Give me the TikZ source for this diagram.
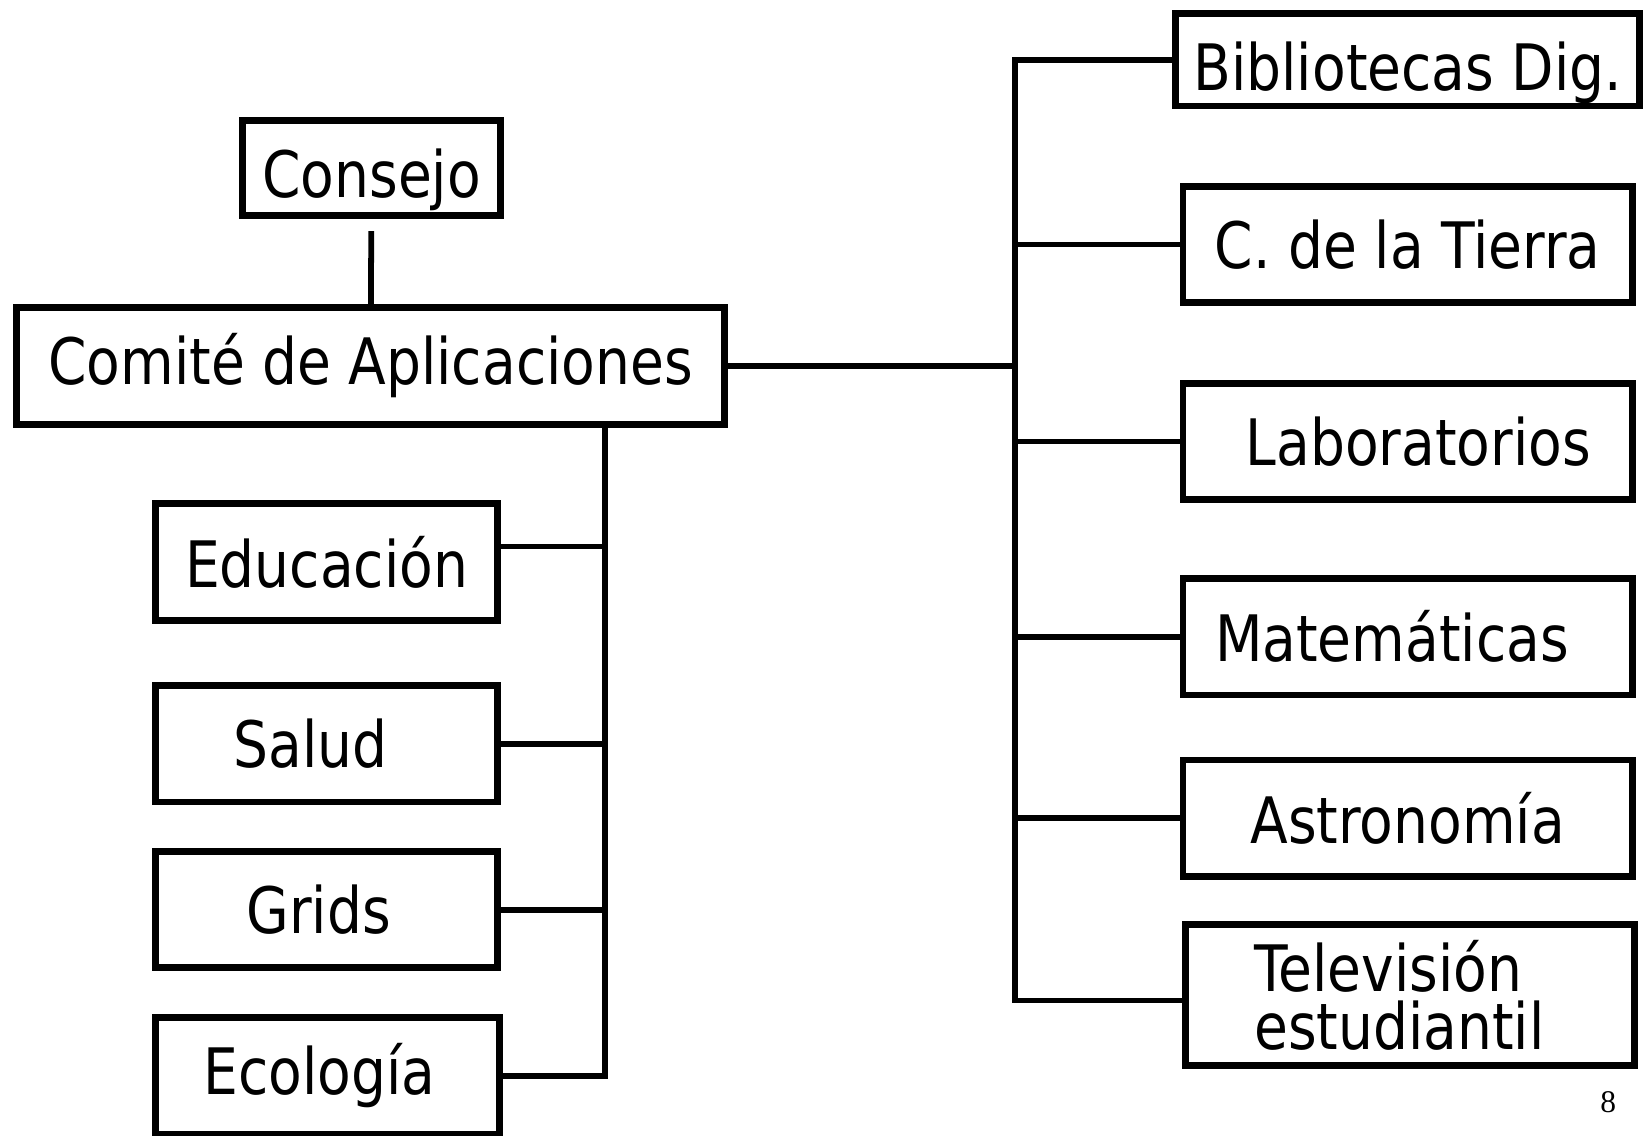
\documentclass[tikz,border=0pt]{standalone}
\usepackage{fontspec}
\setmainfont{DejaVu Sans}[FakeStretch=0.86]
\newfontfamily\numfont{Liberation Serif}
\usepackage{tikz}
\tikzset{
  caja/.style={draw, line width=6.5pt, inner sep=0pt, minimum width=326pt, minimum height=111pt,
    font=\fontsize{61}{55}\selectfont},
  cajader/.style={caja, minimum width=428pt}
}

\begin{document}
\begin{tikzpicture}[x=1pt, y=-1pt, line width=5.5pt]
            \useasboundingbox (0,0) rectangle (1568,1082);
            \node[caja, minimum width=246pt, minimum height=90pt] (consejo) at (354,160) {\raisebox{-11pt}[\height][\depth]{Consejo}};
            \node[caja, minimum width=674pt] (comite) at (353,348.5) {Comité de Aplicaciones};
            
            \node[caja] (edu) at (311,535.5) {Educación};
            \node[caja] (salud) at (311,708.5) {\hspace*{-30pt}Salud};
            \node[caja] (grids) at (311,866.5) {\hspace*{-15pt}Grids};
            \node[caja, minimum width=328pt] (eco) at (312,1025) {\hspace*{-15pt}Ecología};
            
            \node[cajader, minimum width=442pt, minimum height=88pt] (bib) at (1341,57) {\raisebox{-12pt}[\height][\depth]{Bibliotecas Dig.}};
            \node[cajader] (tierra) at (1341,233) {C. de la Tierra};
            \node[cajader] (lab) at (1341,420.5) {\hspace*{20pt}Laboratorios};
            \node[cajader] (mat) at (1341,606.5) {Matemáticas\hspace*{30pt}};
            \node[cajader] (astro) at (1341,779.5) {Astronomía};
            \node[cajader, minimum height=134pt, align=left] (tele) at (1343,948) {Televisión\\estudiantil\hspace*{20pt}};
            
            \node[font=\numfont\fontsize{30}{30}\selectfont] (num) at (1532,1050) {8};
            
            \coordinate (busL) at (576,0);
            \coordinate (busR) at (967,0);
            
            \draw[shorten <=12pt] (consejo) -- (comite);
            \draw (comite.east) -- (comite.east -| busR);
            \draw (comite.south -| busL) -- (eco.east -| busL) -- (eco.east);
            \draw ([yshift=15pt]edu.east) -- ([yshift=15pt]edu.east -| busL);
            \foreach \n in {salud,grids}
                \draw (\n.east) -- (\n.east -| busL);
            \draw (bib.west) -- (bib.west -| busR) -- ([yshift=-5pt]tele.west -| busR) -- ([yshift=-5pt]tele.west);
            \foreach \n in {tierra,lab,mat,astro}
                \draw (\n.west) -- (\n.west -| busR);
        \end{tikzpicture}
\end{document}
